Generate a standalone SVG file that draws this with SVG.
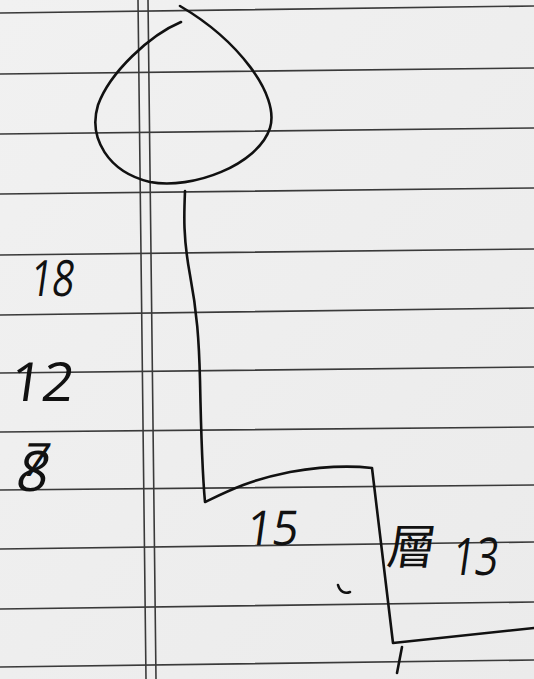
<svg xmlns="http://www.w3.org/2000/svg" width="534" height="679" viewBox="0 0 534 679">
<defs>
<style>
.rule{stroke:#3a3a3a;stroke-width:1.6;fill:none}
.ink{stroke:#111;stroke-width:2.6;fill:none;stroke-linecap:round;stroke-linejoin:round}
.hw{font-family:"Open Sans","Noto Sans","Liberation Sans",sans-serif;font-weight:400;fill:#111}
.cjk{font-family:"Noto Sans CJK TC","Noto Sans CJK SC",sans-serif;font-weight:400;fill:#111}
</style>
<linearGradient id="paper" x1="0" y1="0" x2="1" y2="1">
<stop offset="0" stop-color="#f1f1f1"/>
<stop offset="1" stop-color="#ebebeb"/>
</linearGradient>
</defs>
<rect width="534" height="679" fill="url(#paper)"/>
<g id="ruling">
<path class="rule" d="M0,13 L534,6 M0,74 L534,68 M0,134 L534,128 M0,194 L534,188 M0,255 L534,249 M0,315 L534,308 M0,373 L534,367 M0,432 L534,427 M0,490 L534,485 M0,549 L534,542 M0,609 L534,602 M0,667 L534,660"/>
<path class="rule" d="M138,0 L146,679 M148,0 L156,679"/>
</g>
<g id="drawing">
<path class="ink" d="M181,22 C150,35 110,72 98,105 C88,138 108,172 150,182 C192,190 258,165 270,128 C280,95 238,40 180,6"/>
<path class="ink" d="M185,191 C184,215 183,237 190,275 C197,312 199,340 200,380 C201,430 202,470 205,502 C230,490 250,480 290,472 C330,465 355,466 372,468 L393,643 L534,628"/>
<path class="ink" d="M402,647 L397,673"/>
<path class="ink" d="M338,585 C340,592 345,594 350,592"/>
</g>
<g id="labels">
<text class="hw" x="28" y="296" font-size="50" textLength="44" lengthAdjust="spacingAndGlyphs" transform="skewX(-8) translate(42,0)">18</text>
<text class="hw" x="8" y="401" font-size="54" textLength="64" lengthAdjust="spacingAndGlyphs" transform="skewX(-8) translate(56,0)">12</text>
<text class="hw" x="14" y="491" font-size="56" transform="skewX(-12) translate(104,0)">8</text>
<text class="hw" x="20" y="476" font-size="46" transform="skewX(-12) translate(101,0)">7</text>
<text class="hw" x="244" y="545" font-size="48" textLength="52" lengthAdjust="spacingAndGlyphs" transform="skewX(-8) translate(77,0)">15</text>
<text class="cjk" x="386" y="564" font-size="48" transform="skewX(-8) translate(79,0)">層</text>
<text class="hw" x="450" y="575" font-size="52" textLength="46" lengthAdjust="spacingAndGlyphs" transform="skewX(-8) translate(81,0)">13</text>
</g>
</svg>
